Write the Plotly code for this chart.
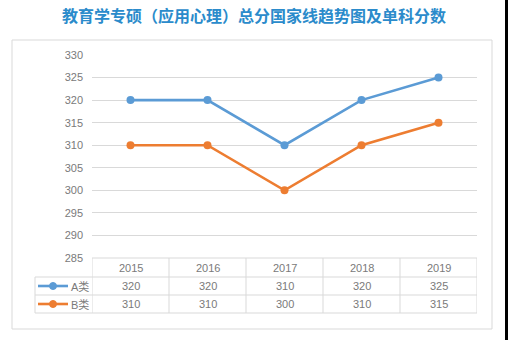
import plotly.graph_objects as go

# Data
years = ["2015", "2016", "2017", "2018", "2019"]
series_names = ["A类", "B类"]
a_scores = [320, 320, 310, 320, 325]
b_scores = [310, 310, 300, 310, 315]
series_values = [a_scores, b_scores]
series_colors = ["#5b9bd5", "#ed7d31"]
y_ticks = [285, 290, 295, 300, 305, 310, 315, 320, 325, 330]
title_text = "教育学专硕（应用心理）总分国家线趋势图及单科分数"

W, H = 508, 340


def py(v):
    """Pixel row -> paper y."""
    return 1 - v / H


def px(v):
    """Pixel column -> paper x."""
    return v / W


x_idx = list(range(len(years)))

fig = go.Figure()
for name, vals, col in zip(series_names, series_values, series_colors):
    fig.add_trace(go.Scatter(
        x=x_idx, y=vals, name=name, mode="lines+markers",
        line=dict(color=col, width=2.6),
        marker=dict(color=col, size=8),
        showlegend=False, hoverinfo="skip",
    ))

grid = "#d9d9d9"
txt = "#7a7a7a"
font_num = "Liberation Sans, Noto Sans CJK SC, sans-serif"
shapes = []
annotations = []

# Outer chart frame
shapes.append(dict(type="rect", xref="paper", yref="paper",
                   x0=px(12), x1=px(492), y0=py(40), y1=py(329),
                   line=dict(color=grid, width=1)))
# dark strip along the right edge
shapes.append(dict(type="rect", xref="paper", yref="paper",
                   x0=px(505), x1=1, y0=0, y1=1,
                   fillcolor="black", line=dict(width=0)))

# Data table rows (pixel rows of the table borders)
row_top, row_a, row_b, row_bot = 258, 277, 295, 313
legend_left = 35

n = len(years)
# horizontal rules
shapes.append(dict(type="line", xref="x", yref="paper", x0=-0.5, x1=n - 0.5,
                   y0=py(row_top), y1=py(row_top), line=dict(color=grid, width=1)))
for r in (row_a, row_b, row_bot):
    shapes.append(dict(type="line", xref="paper", yref="paper",
                       x0=px(legend_left), x1=px(477), y0=py(r), y1=py(r),
                       line=dict(color=grid, width=1)))
# vertical rules
for i in range(n + 1):
    shapes.append(dict(type="line", xref="x", yref="paper", x0=i - 0.5, x1=i - 0.5,
                       y0=py(row_top), y1=py(row_bot), line=dict(color=grid, width=1)))
shapes.append(dict(type="line", xref="paper", yref="paper",
                   x0=px(legend_left), x1=px(legend_left), y0=py(row_a), y1=py(row_bot),
                   line=dict(color=grid, width=1)))

# header cells: years
hdr_y = py((row_top + row_a) / 2)
for i, yr in enumerate(years):
    annotations.append(dict(x=i, y=hdr_y, xref="x", yref="paper", text=yr,
                            xanchor="center", yanchor="middle", showarrow=False,
                            font=dict(size=11, color=txt, family=font_num)))

# value rows with legend keys
row_centers = [(row_a + row_b) / 2, (row_b + row_bot) / 2]
for name, vals, col, rc in zip(series_names, series_values, series_colors, row_centers):
    yc = py(rc)
    for i, v in enumerate(vals):
        annotations.append(dict(x=i, y=yc, xref="x", yref="paper", text=str(v),
                                xanchor="center", yanchor="middle", showarrow=False,
                                font=dict(size=11, color=txt, family=font_num)))
    shapes.append(dict(type="line", xref="paper", yref="paper",
                       x0=px(38), x1=px(68), y0=yc, y1=yc, line=dict(color=col, width=2.6)))
    shapes.append(dict(type="circle", xref="paper", yref="paper",
                       x0=px(49.5), x1=px(56.5), y0=py(rc + 3.5), y1=py(rc - 3.5),
                       fillcolor=col, line=dict(color=col, width=1)))
    annotations.append(dict(x=px(69), y=yc, xref="paper", yref="paper", text=name,
                            xanchor="left", yanchor="middle", showarrow=False,
                            font=dict(size=11, color=txt, family=font_num)))

# title
annotations.append(dict(x=0.5, y=py(15), xref="paper", yref="paper", text=title_text,
                        showarrow=False, xanchor="center", yanchor="middle",
                        font=dict(size=16, color="#2b8bcb", family="Noto Sans CJK SC",
                                  weight="bold")))

fig.update_layout(
    width=W, height=H,
    margin=dict(l=0, r=0, t=0, b=0, pad=0),
    paper_bgcolor="white", plot_bgcolor="white",
    xaxis=dict(domain=[px(92), px(477)], range=[-0.5, n - 0.5],
               showgrid=False, zeroline=False, showticklabels=False, showline=False,
               automargin=False, fixedrange=True),
    yaxis=dict(domain=[py(258), py(55)], range=[285, 330],
               tickvals=y_ticks, showgrid=True, gridcolor=grid, gridwidth=1,
               zeroline=False, showline=False, ticks="",
               ticklabelstandoff=8, automargin=False,
               tickfont=dict(size=11, color=txt, family=font_num), fixedrange=True),
    shapes=shapes, annotations=annotations,
)

fig.write_html("out.html")
